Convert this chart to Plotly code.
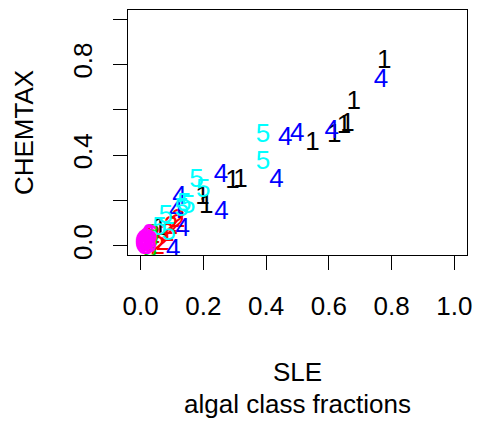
import plotly.graph_objects as go

# SLE vs CHEMTAX algal class fractions, one series per algal class
sle_1 = [0.776, 0.679, 0.648, 0.659, 0.617, 0.548, 0.293, 0.318, 0.197, 0.209, 0.062]
chem_1 = [0.812, 0.632, 0.526, 0.537, 0.487, 0.450, 0.283, 0.289, 0.215, 0.176, 0.075]

sle_2 = [0.120, 0.097, 0.118, 0.071, 0.055, 0.040, 0.028, 0.085]
chem_2 = [0.110, 0.082, 0.090, 0.009, -0.006, 0.040, 0.020, 0.050]

sle_3 = [0.036, 0.030, 0.022, 0.034]
chem_3 = [0.045, -0.018, 0.008, 0.025]

sle_4 = [0.766, 0.609, 0.499, 0.461, 0.433, 0.256, 0.258, 0.124, 0.113, 0.134, 0.104]
chem_4 = [0.730, 0.505, 0.492, 0.474, 0.288, 0.310, 0.148, 0.212, 0.150, 0.072, -0.020]

sle_5 = [0.390, 0.390, 0.178, 0.200, 0.139, 0.152, 0.131, 0.080, 0.060, 0.090]
chem_5 = [0.487, 0.369, 0.290, 0.245, 0.183, 0.175, 0.160, 0.130, 0.075, 0.053]

sle_6 = [0.005, 0.012, 0.020, 0.028, 0.008, 0.016, 0.024, 0.032, 0.010, 0.020, 0.030, 0.004, 0.014, 0.026]
chem_6 = [0.000, 0.005, 0.010, 0.020, 0.020, 0.028, 0.035, 0.040, -0.008, -0.005, 0.000, 0.012, 0.015, 0.045]

series = [
    ("1", "black", sle_1, chem_1),
    ("2", "red", sle_2, chem_2),
    ("3", "#00CD00", sle_3, chem_3),
    ("4", "blue", sle_4, chem_4),
    ("5", "cyan", sle_5, chem_5),
    ("6", "magenta", sle_6, chem_6),
]

x_ticks = [0.0, 0.2, 0.4, 0.6, 0.8, 1.0]
x_ticktext = ["0.0", "0.2", "0.4", "0.6", "0.8", "1.0"]
y_ticks = [0.0, 0.2, 0.4, 0.6, 0.8, 1.0]
y_ticktext = ["0.0", "", "0.4", "", "0.8", ""]

FONT = "Liberation Sans, Arial, Helvetica, sans-serif"
FS = 26

fig = go.Figure()
for label, color, xs, ys in series:
    fig.add_trace(go.Scatter(
        x=xs, y=ys, mode="text", text=[label] * len(xs),
        textposition="middle center",
        textfont=dict(family=FONT, size=FS, color=color),
        hoverinfo="x+y", showlegend=False,
    ))

W, H = 481, 422
L, R, T, B = 128, 9, 10, 167
pw, ph = W - L - R, H - T - B

axis_common = dict(
    showgrid=False, zeroline=False,
    showline=True, mirror=True, linecolor="black", linewidth=1,
    ticks="outside", ticklen=14, tickwidth=1, tickcolor="black",
    tickfont=dict(family=FONT, size=FS, color="black"),
)

fig.update_xaxes(range=[-0.04, 1.04], tickvals=x_ticks, ticktext=x_ticktext,
                 ticklabelstandoff=14, **axis_common)
fig.update_yaxes(range=[-0.04, 1.04], tickvals=y_ticks, ticktext=y_ticktext,
                 tickangle=-90, ticklabelstandoff=11, **axis_common)


def px_to_paper_y(py):
    return (H - B - py) / ph


def px_to_paper_x(px):
    return (px - L) / pw


annotations = [
    dict(text="SLE", x=0.5, y=px_to_paper_y(372)),
    dict(text="algal class fractions", x=0.5, y=px_to_paper_y(404)),
    dict(text="CHEMTAX", x=px_to_paper_x(22), y=0.5, textangle=-90),
]
for a in annotations:
    fig.add_annotation(xref="paper", yref="paper", showarrow=False,
                       xanchor="center", yanchor="middle",
                       font=dict(family=FONT, size=FS, color="black"), **a)

fig.update_layout(
    width=W, height=H,
    margin=dict(l=L, r=R, t=T, b=B, pad=0),
    plot_bgcolor="white", paper_bgcolor="white",
)

fig.write_html("out.html")
